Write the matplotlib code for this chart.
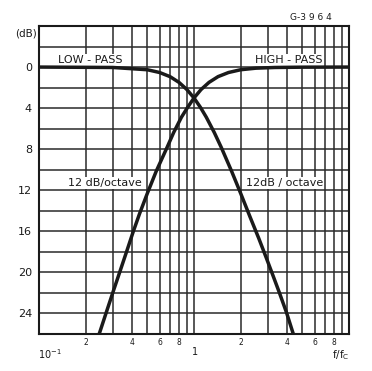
import matplotlib

matplotlib.use("Agg")
import matplotlib.pyplot as plt
from matplotlib.ticker import FixedLocator, NullFormatter

# curves (attenuation in dB vs f/fc)
lp_f = [0.1, 0.3, 0.5, 0.6, 0.7, 0.8, 0.9, 1.0, 1.1, 1.2, 1.35, 1.5, 1.75, 2.0,
        2.3, 2.62, 2.93, 3.25, 3.56, 3.95, 4.33, 4.6]
lp_db = [0.0, 0.04, 0.26, 0.53, 0.93, 1.49, 2.19, 3.01, 3.92, 4.88, 6.36, 7.83, 10.16, 12.3,
         14.6, 16.7, 18.6, 20.4, 22.0, 23.9, 25.8, 27.0]
hp_f = [10.0, 5.0, 3.33, 2.5, 2.0, 1.67, 1.43, 1.25, 1.11, 1.0, 0.91, 0.83, 0.74, 0.67,
        0.57, 0.5, 0.445, 0.404, 0.367, 0.333, 0.302, 0.273, 0.247, 0.235]
hp_db = [0.0, 0.01, 0.04, 0.11, 0.26, 0.53, 0.93, 1.49, 2.19, 3.01, 3.92, 4.88, 6.36, 7.83,
         10.16, 12.3, 14.3, 16.1, 18.0, 19.9, 21.8, 23.8, 25.8, 26.7]

y_ticks = [0, 4, 8, 12, 16, 20, 24]
x_grid = [m * 10.0 ** e for e in (-1, 0) for m in range(2, 10)] + [1.0]
x_small = [0.2, 0.4, 0.6, 0.8, 2, 4, 6, 8]

ink = "#1a1a1a"
fig = plt.figure(figsize=(3.72, 3.71), dpi=100)
ax = fig.add_axes([39 / 372, 1 - 334 / 371, 310 / 372, 308 / 371])
ax.set_xscale("log")
ax.set_xlim(0.1, 10)
ax.set_ylim(26, -4)

for xv in x_grid:
    ax.axvline(xv, color="#2a2a2a", lw=1.1, zorder=1)
for yv in range(-2, 26, 2):
    ax.axhline(yv, color="#2a2a2a", lw=1.1, zorder=1)

ax.plot(lp_f, lp_db, color=ink, lw=2.5, zorder=3, solid_capstyle="butt", solid_joinstyle="round")
ax.plot(hp_f, hp_db, color=ink, lw=2.5, zorder=3, solid_capstyle="butt", solid_joinstyle="round")

ax.xaxis.set_major_locator(FixedLocator([]))
ax.xaxis.set_minor_locator(FixedLocator([]))
ax.xaxis.set_major_formatter(NullFormatter())
ax.xaxis.set_minor_formatter(NullFormatter())
ax.set_yticks(y_ticks)
ax.set_yticklabels([str(v) for v in y_ticks], fontsize=8, color=ink)
ax.tick_params(axis="y", length=0, pad=5)
for s in ax.spines.values():
    s.set_linewidth(1.5)
    s.set_color(ink)

for xv in x_small:
    ax.text(xv, 26.35, f"{xv:g}"[-1], fontsize=5.5, ha="center", va="top", color=ink)
ax.text(0.118, 27.3, r"10$^{-1}$", fontsize=7, ha="center", va="top", color=ink)
ax.text(1.01, 27.3, "1", fontsize=7, ha="center", va="top", color=ink)
ax.text(8.9, 27.4, r"f/f$_\mathrm{C}$", fontsize=7.5, ha="center", va="top", color=ink)
ax.text(0.097, -3.3, "(dB)", fontsize=7.5, ha="right", va="center", color=ink)

box = dict(facecolor="white", edgecolor="none", pad=0.6)
ax.text(0.132, -0.7, "LOW - PASS", fontsize=8, ha="left", va="center", color=ink, bbox=box, zorder=2)
ax.text(6.75, -0.7, "HIGH - PASS", fontsize=8, ha="right", va="center", color=ink, bbox=box, zorder=2)
ax.text(0.46, 11.3, "12 dB/octave", fontsize=8, ha="right", va="center", color=ink, bbox=box, zorder=2)
ax.text(2.18, 11.3, "12dB / octave", fontsize=8, ha="left", va="center", color=ink, bbox=box, zorder=2)

fig.text(311 / 372, 1 - 17 / 371, "G-3 9 6 4", fontsize=6.5, ha="center", va="center", color=ink)

fig.savefig("out.png", dpi=100)
